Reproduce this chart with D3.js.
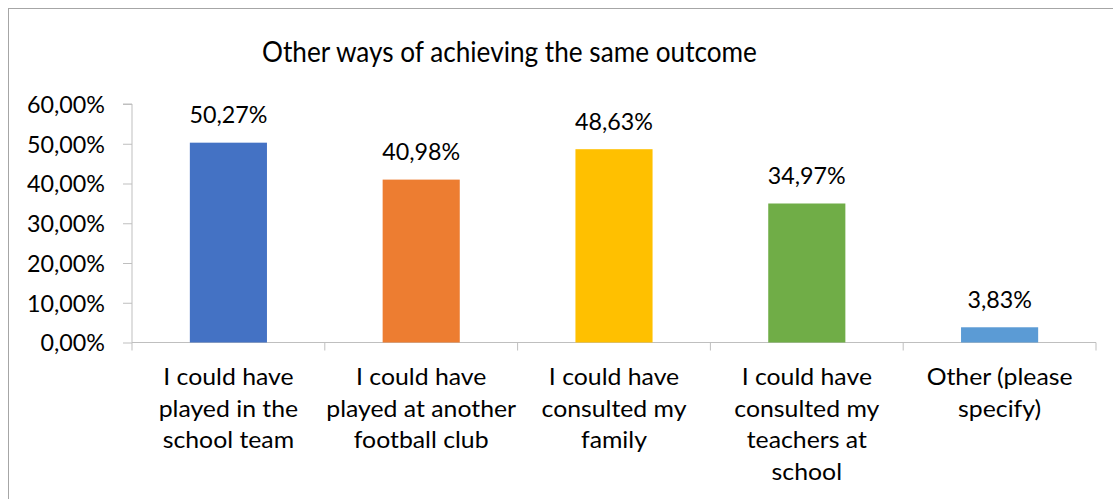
<!DOCTYPE html>
<html>
<head>
<meta charset="utf-8">
<script src="https://cdn.jsdelivr.net/npm/d3@7"></script>
<style>
  html, body { margin: 0; padding: 0; background: #fff; }
  svg { display: block; }
  text { font-family: Lato, "Open Sans", sans-serif; fill: #000; }
</style>
</head>
<body>
<svg id="chart" width="1113" height="499"></svg>
<script>
// Survey answers: other ways the respondent could have reached the same outcome
const categories = [
  ["I could have", "played in the", "school team"],
  ["I could have", "played at another", "football club"],
  ["I could have", "consulted my", "family"],
  ["I could have", "consulted my", "teachers at", "school"],
  ["Other (please", "specify)"]
];
const values = [50.27, 40.98, 48.63, 34.97, 3.83];
const colors = ["#4472C4", "#ED7D31", "#FFC000", "#70AD47", "#5B9BD5"];
const yTicks = [0, 10, 20, 30, 40, 50, 60];
const title = "Other ways of achieving the same outcome";

const fmt = v => v.toFixed(2).replace(".", ",") + "%";
const FONT = "Lato, 'Open Sans', sans-serif";

function draw() {
  const svg = d3.select("#chart");
  svg.selectAll("*").remove();
  const W = 1113, H = 499;

  // chart frame (only top and left edges fall inside the view)
  svg.append("rect")
    .attr("x", 8.5).attr("y", 8.5)
    .attr("width", W + 20).attr("height", H + 20)
    .attr("fill", "#fff").attr("stroke", "#A6A6A6").attr("stroke-width", 1);

  const plot = { left: 132, right: 1096, top: 104, bottom: 342.5 };

  const x = d3.scaleBand()
    .domain(d3.range(values.length))
    .range([plot.left, plot.right])
    .paddingInner(0.6).paddingOuter(0.3);

  const y = d3.scaleLinear().domain([0, 60]).range([plot.bottom, plot.top]);

  // horizontal scale factor so a sample string at the given size spans the target width
  function widthScale(sample, size, targetWidth) {
    const t = svg.append("text").attr("font-size", size).attr("font-family", FONT).text(sample);
    const w = t.node().getComputedTextLength();
    t.remove();
    return w > 0 ? targetWidth / w : 1;
  }
  const labelSize = 23;
  const titleSize = 28;
  const labelSx = widthScale("60,00%", labelSize, 78);
  const catSx = widthScale("played at another", labelSize, 190);
  const titleSx = widthScale(title, titleSize, 495);

  // title
  svg.append("text")
    .attr("transform", `translate(509.5,62) scale(${titleSx},1)`)
    .attr("text-anchor", "middle")
    .attr("font-size", titleSize)
    .text(title);

  // y axis
  const yAxis = d3.axisLeft(y)
    .tickValues(yTicks)
    .tickSize(9)
    .tickPadding(0)
    .tickFormat(d => fmt(d));

  const gy = svg.append("g")
    .attr("transform", `translate(${plot.left},0)`)
    .call(yAxis);
  gy.select(".domain").attr("stroke", "#BFBFBF").attr("d", `M-9,${plot.top}H0V${plot.bottom}`);
  gy.selectAll(".tick line").attr("stroke", "#BFBFBF");
  gy.selectAll(".tick text")
    .attr("x", null)
    .attr("font-size", labelSize)
    .attr("font-family", FONT)
    .attr("fill", "#000")
    .attr("dy", "0.36em")
    .attr("transform", `translate(-27,0) scale(${labelSx},1)`);

  // x axis line with separators between categories
  const bounds = d3.range(values.length + 1).map(i => plot.left + i * (plot.right - plot.left) / values.length);
  const gx = svg.append("g");
  gx.append("line")
    .attr("x1", plot.left).attr("x2", plot.right)
    .attr("y1", plot.bottom).attr("y2", plot.bottom)
    .attr("stroke", "#BFBFBF");
  gx.selectAll("line.sep").data(bounds).join("line")
    .attr("class", "sep")
    .attr("x1", d => d).attr("x2", d => d)
    .attr("y1", plot.bottom).attr("y2", plot.bottom + 8)
    .attr("stroke", "#BFBFBF");

  // bars
  svg.append("g").selectAll("rect").data(values).join("rect")
    .attr("x", (d, i) => x(i))
    .attr("y", d => y(d))
    .attr("width", x.bandwidth())
    .attr("height", d => y(0) - y(d))
    .attr("fill", (d, i) => colors[i]);

  // value labels
  svg.append("g").selectAll("text").data(values).join("text")
    .attr("transform", (d, i) => `translate(${x(i) + x.bandwidth() / 2},${y(d) - 19.5}) scale(${labelSx},1)`)
    .attr("text-anchor", "middle")
    .attr("font-size", labelSize)
    .text(d => fmt(d));

  // category labels
  const cat = svg.append("g").selectAll("text").data(categories).join("text")
    .attr("transform", (d, i) => `translate(${x(i) + x.bandwidth() / 2},385) scale(${catSx},1)`)
    .attr("text-anchor", "middle")
    .attr("font-size", labelSize);
  cat.each(function(lines) {
    d3.select(this).selectAll("tspan").data(lines).join("tspan")
      .attr("x", 0)
      .attr("y", (d, j) => j * 31.7)
      .text(d => d);
  });
}

draw();
if (document.fonts && document.fonts.load) {
  Promise.all([document.fonts.load("23px Lato"), document.fonts.load("28px Lato")])
    .then(() => document.fonts.ready)
    .then(draw);
}
</script>
</body>
</html>
